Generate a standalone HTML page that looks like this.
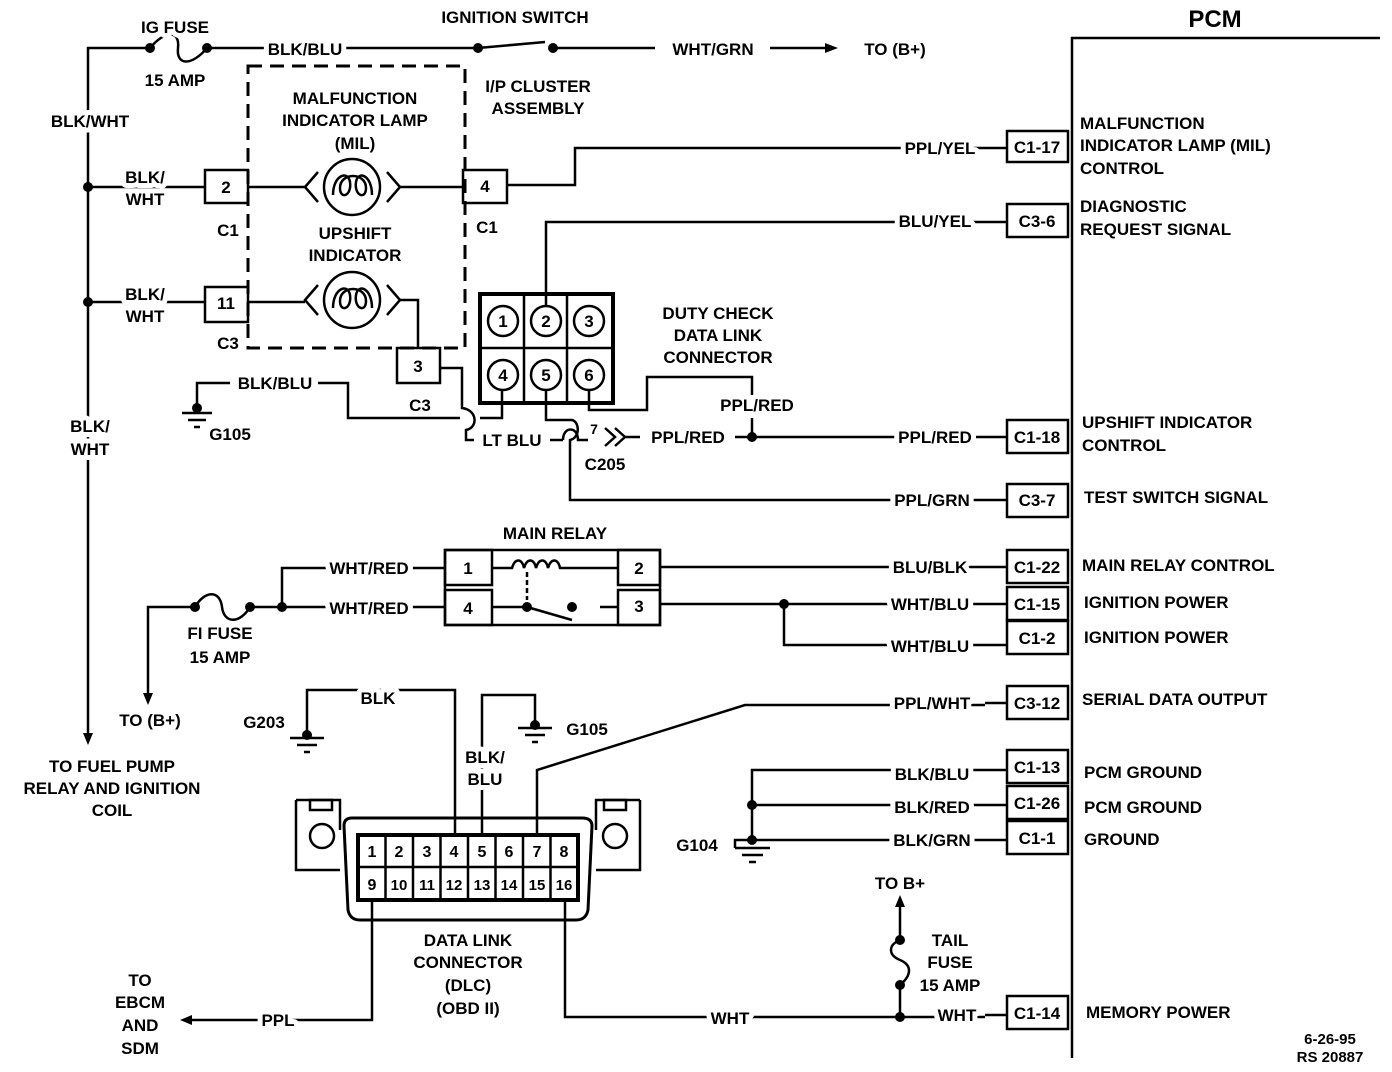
<!DOCTYPE html>
<html><head><meta charset="utf-8"><style>
html,body{margin:0;padding:0;background:#fff;}
svg{display:block;}
text{font-family:"Liberation Sans",Arial,sans-serif;font-weight:bold;font-size:17px;fill:#000;paint-order:stroke;stroke:#fff;stroke-width:10px;stroke-linejoin:round;}
.c{text-anchor:middle;}
</style></head><body>
<svg width="1392" height="1072" viewBox="0 0 1392 1072" xmlns="http://www.w3.org/2000/svg">
<g fill="none" stroke="#000" stroke-width="2.5">
<path d="M1072 1058 V38 H1380"/>
<path d="M88 740 V48 H150"/>
<path d="M150 48 C165 30 180 30 178 48 C176 66 192 66 207 48"/>
<path d="M207 48 H478"/>
<path d="M478 48 L545 42"/>
<path d="M553 48 H655"/>
<path d="M770 48 H825"/>
<rect x="248" y="66" width="217" height="282" stroke-dasharray="14 8" stroke-width="3"/>
<path d="M88 187 H205"/>
<rect x="205" y="170" width="43" height="33"/>
<path d="M248 187 H305 M400 187 H463"/>
<rect x="463" y="170" width="44" height="33"/>
<path d="M507 185 H575 V148 H985"/>
<path d="M88 302 H205"/>
<rect x="205" y="287" width="43" height="35"/>
<path d="M248 302 H305 M400 300 H418 V348"/>
<rect x="397" y="348" width="43" height="35"/>
<path d="M318 172 L305 187 L318 202 M387 172 L400 187 L387 202"/>
<circle cx="352" cy="187" r="28"/>
<path d="M333 195 C333 175 348 170 350 182 C352 196 340 200 340 188 C340 172 366 172 366 188 C366 200 354 196 356 182 C358 170 372 175 372 195"/>
<path d="M318 285 L305 300 L318 315 M387 285 L400 300 L387 315"/>
<circle cx="352" cy="300" r="28"/>
<path d="M333 308 C333 288 348 283 350 295 C352 309 340 313 340 301 C340 285 366 285 366 301 C366 313 354 309 356 295 C358 283 372 288 372 308"/>
<rect x="480" y="294" width="133" height="109" stroke-width="4"/>
<path d="M524 294 V403 M567 294 V403 M480 348 H613"/>
<circle cx="503" cy="321" r="15"/><circle cx="546" cy="321" r="15"/><circle cx="589" cy="321" r="15"/>
<circle cx="503" cy="375" r="15"/><circle cx="546" cy="375" r="15"/><circle cx="589" cy="375" r="15"/>
<path d="M546 306 V222 H985"/>
<path d="M197 408 V383 H230 M318 383 H348 V418 H460 M480 418 H502 V390"/>
<path d="M182 413 H212 M188 420 H206 M194 427 H200"/>
<path d="M440 368 H462 V408 C478 410 478 428 466 430 V440 H474 M550 440 H563"/>
<path d="M563 440 C563 426 578 426 578 440 H588"/>
<path d="M605 428 L615 437 L605 446 M615 428 L625 437 L615 446 M625 437 H640"/>
<path d="M735 437 H985"/>
<path d="M546 390 V420 H572 C580 422 580 438 570 440 V500 H985"/>
<path d="M589 390 V410 H647 V377 H752 V395 M752 418 V437"/>
<rect x="445" y="550" width="215" height="75"/>
<rect x="445" y="550" width="47" height="35"/><rect x="445" y="590" width="47" height="35"/>
<rect x="618" y="550" width="42" height="35"/><rect x="618" y="590" width="42" height="35"/>
<path d="M492 568 H512 c3 -10 10 -10 12 0 c3 -10 10 -10 12 0 c3 -10 10 -10 12 0 c3 -10 10 -10 12 0 H618"/>
<path d="M527 572 V600" stroke-dasharray="5 3"/>
<path d="M492 607 H527 M527 607 L572 620 M600 607 H618"/>
<path d="M660 567 H985 M660 604 H985 M784 604 V645 H985"/>
<path d="M445 568 H282 V607 M445 607 H250"/>
<path d="M195 607 C205 590 220 590 222 607 C224 624 240 624 250 607"/>
<path d="M195 607 H148 V698"/>
<path d="M985 148 H1007 M985 222 H1007 M985 437 H1007 M985 500 H1007 M985 567 H1007 M985 604 H1007 M985 645 H1007 M985 703 H1007 M985 770 H1007 M985 805 H1007 M985 840 H1007 M985 1015 H1007"/>
<rect x="1007" y="131" width="61" height="31"/>
<rect x="1007" y="204" width="61" height="33"/>
<rect x="1007" y="420" width="61" height="33"/>
<rect x="1007" y="484" width="61" height="33"/>
<rect x="1007" y="550" width="61" height="33"/>
<rect x="1007" y="587" width="61" height="33"/>
<rect x="1007" y="621" width="61" height="33"/>
<rect x="1007" y="686" width="61" height="33"/>
<rect x="1007" y="750" width="61" height="33"/>
<rect x="1007" y="786" width="61" height="33"/>
<rect x="1007" y="821" width="61" height="33"/>
<rect x="1007" y="996" width="61" height="33"/>
<path d="M985 770 H752 V840 M985 805 H752 M985 840 H735 V848"/>
<path d="M735 848 H770 M742 855 H763 M749 862 H756"/>
<path d="M296 800 H340 V830 M296 800 V870 H340"/>
<rect x="310" y="800" width="22" height="10"/>
<circle cx="322" cy="836" r="12"/>
<path d="M640 800 H596 V830 M640 800 V870 H596"/>
<rect x="604" y="800" width="22" height="10"/>
<circle cx="615" cy="836" r="12"/>
<path d="M344 826 Q344 818 352 818 H582 Q592 818 592 826 L588 910 Q586 920 576 920 H360 Q350 920 348 910 Z" stroke-width="3"/>
<rect x="358" y="835" width="220" height="65" stroke-width="4"/>
<path d="M385.5 835 V900 M413 835 V900 M440.5 835 V900 M468 835 V900 M495.5 835 V900 M523 835 V900 M550.5 835 V900 M358 867 H578"/>
<path d="M455 835 V690 H307 V735"/>
<path d="M290 738 H324 M297 745 H317 M304 752 H310"/>
<path d="M482 835 V695 H535 V725"/>
<path d="M518 728 H552 M525 735 H545 M532 742 H538"/>
<path d="M537 835 V770 L745 705 H985"/>
<path d="M372 900 V1020 H190"/>
<path d="M565 900 V1017 H985"/>
<path d="M900 1017 V985 C912 975 912 965 900 960 C888 955 888 945 900 940 V905"/>
</g>
<g fill="#000">
<path d="M825 43 L838 48 L825 53 Z"/>
<path d="M83 733 L88 745 L93 733 Z"/>
<path d="M143 693 L148 705 L153 693 Z"/>
<path d="M192 1015 L180 1020 L192 1025 Z"/>
<path d="M895 907 L900 895 L905 907 Z"/>
<circle cx="150" cy="48" r="5"/><circle cx="207" cy="48" r="5"/><circle cx="478" cy="48" r="5"/><circle cx="553" cy="48" r="5"/>
<circle cx="88" cy="187" r="5"/><circle cx="88" cy="302" r="5"/>
<circle cx="197" cy="408" r="5"/>
<circle cx="752" cy="437" r="5"/>
<circle cx="195" cy="607" r="5"/><circle cx="250" cy="607" r="5"/><circle cx="282" cy="607" r="5"/>
<circle cx="527" cy="607" r="5"/><circle cx="572" cy="607" r="5"/>
<circle cx="784" cy="604" r="5"/>
<circle cx="307" cy="735" r="5"/><circle cx="535" cy="725" r="5"/>
<circle cx="752" cy="805" r="5"/><circle cx="752" cy="840" r="5"/>
<circle cx="900" cy="1017" r="5"/>
<circle cx="900" cy="940" r="5"/><circle cx="900" cy="985" r="5"/>
</g>
<text x="1215" y="27" class="c" style="font-size:24px">PCM</text>
<text x="175" y="33" class="c">IG FUSE</text>
<text x="175" y="86" class="c">15 AMP</text>
<text x="305" y="55" class="c">BLK/BLU</text>
<text x="515" y="23" class="c">IGNITION SWITCH</text>
<text x="713" y="55" class="c">WHT/GRN</text>
<text x="895" y="55" class="c">TO (B+)</text>
<text x="538" y="92" class="c">I/P CLUSTER</text>
<text x="538" y="114" class="c">ASSEMBLY</text>
<text x="90" y="127" class="c">BLK/WHT</text>
<text x="355" y="104" class="c">MALFUNCTION</text>
<text x="355" y="126" class="c">INDICATOR LAMP</text>
<text x="355" y="149" class="c">(MIL)</text>
<text x="355" y="239" class="c">UPSHIFT</text>
<text x="355" y="261" class="c">INDICATOR</text>
<text x="145" y="183" class="c">BLK/</text><text x="145" y="205" class="c">WHT</text>
<text x="145" y="300" class="c">BLK/</text><text x="145" y="322" class="c">WHT</text>
<text x="226" y="193" class="c">2</text>
<text x="228" y="236" class="c">C1</text>
<text x="485" y="192" class="c">4</text>
<text x="487" y="233" class="c">C1</text>
<text x="226" y="309" class="c">11</text>
<text x="228" y="349" class="c">C3</text>
<text x="418" y="372" class="c">3</text>
<text x="420" y="411" class="c">C3</text>
<text x="503" y="327" class="c">1</text><text x="546" y="327" class="c">2</text><text x="589" y="327" class="c">3</text>
<text x="503" y="381" class="c">4</text><text x="546" y="381" class="c">5</text><text x="589" y="381" class="c">6</text>
<text x="718" y="319" class="c">DUTY CHECK</text>
<text x="718" y="341" class="c">DATA LINK</text>
<text x="718" y="363" class="c">CONNECTOR</text>
<text x="757" y="411" class="c">PPL/RED</text>
<text x="275" y="389" class="c">BLK/BLU</text>
<text x="230" y="440" class="c">G105</text>
<text x="90" y="432" class="c">BLK/</text><text x="90" y="455" class="c">WHT</text>
<text x="512" y="446" class="c">LT BLU</text>
<text x="594" y="434" class="c" style="font-size:14px">7</text>
<text x="688" y="443" class="c">PPL/RED</text>
<text x="605" y="470" class="c">C205</text>
<text x="940" y="154" class="c">PPL/YEL</text>
<text x="935" y="227" class="c">BLU/YEL</text>
<text x="935" y="443" class="c">PPL/RED</text>
<text x="932" y="506" class="c">PPL/GRN</text>
<text x="930" y="573" class="c">BLU/BLK</text>
<text x="930" y="610" class="c">WHT/BLU</text>
<text x="930" y="652" class="c">WHT/BLU</text>
<text x="932" y="709" class="c">PPL/WHT</text>
<text x="932" y="780" class="c">BLK/BLU</text>
<text x="932" y="813" class="c">BLK/RED</text>
<text x="932" y="846" class="c">BLK/GRN</text>
<text x="957" y="1021" class="c">WHT</text>
<text x="1037" y="153" class="c">C1-17</text>
<text x="1037" y="227" class="c">C3-6</text>
<text x="1037" y="443" class="c">C1-18</text>
<text x="1037" y="506" class="c">C3-7</text>
<text x="1037" y="573" class="c">C1-22</text>
<text x="1037" y="610" class="c">C1-15</text>
<text x="1037" y="644" class="c">C1-2</text>
<text x="1037" y="709" class="c">C3-12</text>
<text x="1037" y="773" class="c">C1-13</text>
<text x="1037" y="809" class="c">C1-26</text>
<text x="1037" y="844" class="c">C1-1</text>
<text x="1037" y="1019" class="c">C1-14</text>
<text x="1080" y="129">MALFUNCTION</text>
<text x="1080" y="151">INDICATOR LAMP (MIL)</text>
<text x="1080" y="174">CONTROL</text>
<text x="1080" y="212">DIAGNOSTIC</text>
<text x="1080" y="235">REQUEST SIGNAL</text>
<text x="1082" y="428">UPSHIFT INDICATOR</text>
<text x="1082" y="451">CONTROL</text>
<text x="1084" y="503">TEST SWITCH SIGNAL</text>
<text x="1082" y="571">MAIN RELAY CONTROL</text>
<text x="1084" y="608">IGNITION POWER</text>
<text x="1084" y="643">IGNITION POWER</text>
<text x="1082" y="705">SERIAL  DATA OUTPUT</text>
<text x="1084" y="778">PCM GROUND</text>
<text x="1084" y="813">PCM GROUND</text>
<text x="1084" y="845">GROUND</text>
<text x="1086" y="1018">MEMORY POWER</text>
<text x="555" y="539" class="c">MAIN RELAY</text>
<text x="468" y="574" class="c">1</text><text x="468" y="614" class="c">4</text>
<text x="639" y="574" class="c">2</text><text x="639" y="612" class="c">3</text>
<text x="369" y="574" class="c">WHT/RED</text>
<text x="369" y="614" class="c">WHT/RED</text>
<text x="220" y="639" class="c">FI FUSE</text>
<text x="220" y="663" class="c">15 AMP</text>
<text x="150" y="726" class="c">TO (B+)</text>
<text x="112" y="772" class="c">TO FUEL PUMP</text>
<text x="112" y="794" class="c">RELAY AND IGNITION</text>
<text x="112" y="816" class="c">COIL</text>
<text x="378" y="704" class="c">BLK</text>
<text x="264" y="728" class="c">G203</text>
<text x="587" y="735" class="c">G105</text>
<text x="485" y="763" class="c">BLK/</text><text x="485" y="785" class="c">BLU</text>
<text x="697" y="851" class="c">G104</text>
<text x="372" y="857" class="c" style="font-size:16px;stroke-width:0">1</text><text x="399" y="857" class="c" style="font-size:16px;stroke-width:0">2</text><text x="427" y="857" class="c" style="font-size:16px;stroke-width:0">3</text><text x="454" y="857" class="c" style="font-size:16px;stroke-width:0">4</text><text x="482" y="857" class="c" style="font-size:16px;stroke-width:0">5</text><text x="509" y="857" class="c" style="font-size:16px;stroke-width:0">6</text><text x="537" y="857" class="c" style="font-size:16px;stroke-width:0">7</text><text x="564" y="857" class="c" style="font-size:16px;stroke-width:0">8</text>
<text x="372" y="890" class="c" style="font-size:16px;stroke-width:0">9</text><text x="399" y="890" class="c" style="font-size:15px;stroke-width:0">10</text><text x="427" y="890" class="c" style="font-size:15px;stroke-width:0">11</text><text x="454" y="890" class="c" style="font-size:15px;stroke-width:0">12</text><text x="482" y="890" class="c" style="font-size:15px;stroke-width:0">13</text><text x="509" y="890" class="c" style="font-size:15px;stroke-width:0">14</text><text x="537" y="890" class="c" style="font-size:15px;stroke-width:0">15</text><text x="564" y="890" class="c" style="font-size:15px;stroke-width:0">16</text>
<text x="468" y="946" class="c">DATA LINK</text>
<text x="468" y="968" class="c">CONNECTOR</text>
<text x="468" y="991" class="c">(DLC)</text>
<text x="468" y="1014" class="c">(OBD II)</text>
<text x="140" y="986" class="c">TO</text>
<text x="140" y="1008" class="c">EBCM</text>
<text x="140" y="1031" class="c">AND</text>
<text x="140" y="1054" class="c">SDM</text>
<text x="278" y="1026" class="c">PPL</text>
<text x="730" y="1024" class="c">WHT</text>
<text x="900" y="889" class="c">TO B+</text>
<text x="950" y="946" class="c">TAIL</text>
<text x="950" y="968" class="c">FUSE</text>
<text x="950" y="991" class="c">15 AMP</text>
<text x="1330" y="1044" class="c" style="font-size:15px">6-26-95</text>
<text x="1330" y="1062" class="c" style="font-size:15px">RS 20887</text>
</svg>
</body></html>
